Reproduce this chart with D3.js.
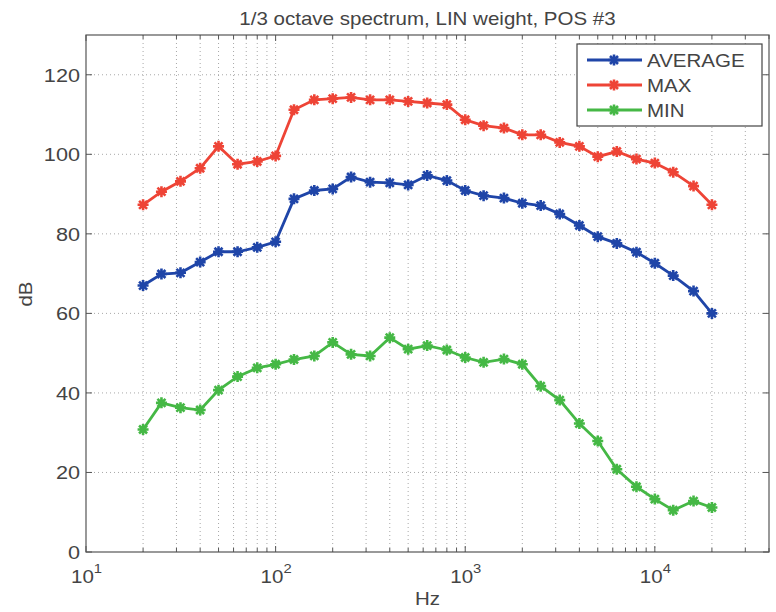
<!DOCTYPE html>
<head>
    <meta charset="utf-8">
    <script src="https://d3js.org/d3.v7.min.js"></script>
    <style>
        body { margin: 0; background: #fff; }
        text { font-family: "Liberation Sans", Arial, sans-serif; fill: #444; }
    </style>
</head>
<body>
    <svg id="my_dataviz" width="776" height="612"></svg>
    <script>
        // 1/3 octave band centre frequencies (Hz)
        var freqs = [20, 25, 31.5, 40, 50, 63, 80, 100, 125, 160, 200, 250, 315, 400, 500, 630, 800,
            1000, 1250, 1600, 2000, 2500, 3150, 4000, 5000, 6300, 8000, 10000, 12500, 16000, 20000];

        var average = [67, 69.9, 70.2, 72.9, 75.5, 75.5, 76.6, 78, 88.8, 90.9, 91.3, 94.3, 93, 92.8, 92.3, 94.7, 93.4,
            90.9, 89.6, 89, 87.7, 87.1, 85, 82.1, 79.3, 77.6, 75.4, 72.6, 69.5, 65.6, 60];
        var maxv = [87.3, 90.6, 93.2, 96.5, 102, 97.5, 98.2, 99.6, 111.2, 113.7, 114, 114.3, 113.7, 113.7, 113.3, 112.9, 112.5,
            108.7, 107.2, 106.6, 104.9, 104.9, 103, 102, 99.4, 100.7, 98.8, 97.8, 95.5, 92, 87.3];
        var minv = [30.8, 37.5, 36.3, 35.7, 40.7, 44.1, 46.3, 47.2, 48.4, 49.3, 52.7, 49.7, 49.3, 53.9, 51, 51.9, 50.8,
            48.9, 47.7, 48.5, 47.2, 41.7, 38.2, 32.3, 27.9, 20.8, 16.4, 13.3, 10.5, 12.8, 11.2];

        var seriesNames = ["AVERAGE", "MAX", "MIN"];
        var seriesColors = ["#1f45a8", "#ee4436", "#45b845"];
        var yTicks = [0, 20, 40, 60, 80, 100, 120];
        var xMajor = [10, 100, 1000, 10000];
        var xExp = ["1", "2", "3", "4"];

        var svg = d3.select("svg");
        var pLeft = 86, pRight = 769, pTop = 35, pBottom = 552;
        var sx = 1.14; // the source picture's text is a bit wide

        var x = d3.scaleLog().domain([10, 40000]).range([pLeft, pRight]);
        var y = d3.scaleLinear().domain([0, 130]).range([pBottom, pTop]);

        // text helper, stretched horizontally
        function addText(parent, tx, ty, size, anchor, str, rot) {
            return parent.append("text")
                .attr("transform", "translate(" + tx + "," + ty + ")" + (rot ? " rotate(" + rot + ")" : "") + " scale(" + sx + ",1)")
                .attr("text-anchor", anchor).style("font-size", size + "px").text(str);
        }

        // minor + major positions on log axis
        var xAll = [];
        xMajor.forEach(function (d) {
            for (var k = 1; k < 10; k++) {
                var v = d * k;
                if (v <= 40000) xAll.push(v);
            }
        });

        // grid
        var grid = svg.append("g").attr("stroke", "#a8a8a8").attr("stroke-dasharray", "1,3").attr("stroke-width", 1);
        grid.selectAll(".gx").data(xAll.filter(function (d) { return d > 10 && d < 40000; })).enter().append("line")
            .attr("x1", function (d) { return x(d); }).attr("x2", function (d) { return x(d); })
            .attr("y1", pTop).attr("y2", pBottom);
        grid.selectAll(".gy").data(yTicks.filter(function (d) { return d > 0; })).enter().append("line")
            .attr("y1", function (d) { return y(d); }).attr("y2", function (d) { return y(d); })
            .attr("x1", pLeft).attr("x2", pRight);

        // tick marks (inside, both sides)
        var ticks = svg.append("g").attr("stroke", "#555").attr("stroke-width", 1);
        xAll.forEach(function (d) {
            var len = xMajor.indexOf(d) >= 0 ? 6 : 4;
            ticks.append("line").attr("x1", x(d)).attr("x2", x(d)).attr("y1", pBottom).attr("y2", pBottom - len);
            ticks.append("line").attr("x1", x(d)).attr("x2", x(d)).attr("y1", pTop).attr("y2", pTop + len);
        });
        yTicks.forEach(function (d) {
            ticks.append("line").attr("x1", pLeft).attr("x2", pLeft + 6).attr("y1", y(d)).attr("y2", y(d));
            ticks.append("line").attr("x1", pRight).attr("x2", pRight - 6).attr("y1", y(d)).attr("y2", y(d));
        });

        // axes box
        svg.append("rect").attr("x", pLeft).attr("y", pTop).attr("width", pRight - pLeft).attr("height", pBottom - pTop)
            .attr("fill", "none").attr("stroke", "#555").attr("stroke-width", 1.2);

        // y tick labels
        yTicks.forEach(function (d) {
            addText(svg, pLeft - 6, y(d) + 7, 19, "end", d);
        });

        // x tick labels 10^n
        xMajor.forEach(function (d, i) {
            var t = addText(svg, x(d) - 15, 583, 18, "start", null);
            t.append("tspan").text("10");
            t.append("tspan").attr("dy", -10).style("font-size", "13px").text(xExp[i]);
        });

        // labels
        addText(svg, (pLeft + pRight) / 2, 25, 18, "middle", "1/3 octave spectrum, LIN weight, POS #3");
        addText(svg, (pLeft + pRight) / 2, 605, 18, "middle", "Hz");
        addText(svg, 32, 294, 18, "middle", "dB", -90);

        // series
        var series = [average, maxv, minv];
        var line = d3.line().x(function (d) { return x(d[0]); }).y(function (d) { return y(d[1]); });
        var star = "M-5.5,0L5.5,0M0,-5.5L0,5.5M-4,-4L4,4M-4,4L4,-4";

        series.forEach(function (vals, i) {
            var pts = freqs.map(function (f, j) { return [f, vals[j]]; });
            svg.append("path").datum(pts).attr("d", line)
                .attr("fill", "none").attr("stroke", seriesColors[i]).attr("stroke-width", 2.8);
            svg.append("g").selectAll("path").data(pts).enter().append("path")
                .attr("transform", function (d) { return "translate(" + x(d[0]) + "," + y(d[1]) + ")"; })
                .attr("d", star).attr("fill", "none").attr("stroke", seriesColors[i]).attr("stroke-width", 2.6);
        });

        // legend
        var lg = svg.append("g");
        lg.append("rect").attr("x", 577).attr("y", 44).attr("width", 185).attr("height", 82)
            .attr("fill", "#fff").attr("stroke", "#444").attr("stroke-width", 1.2);
        seriesNames.forEach(function (name, i) {
            var ly = 60 + i * 25;
            lg.append("line").attr("x1", 587).attr("x2", 642).attr("y1", ly).attr("y2", ly)
                .attr("stroke", seriesColors[i]).attr("stroke-width", 2.8);
            lg.append("path").attr("transform", "translate(614," + ly + ")").attr("d", star)
                .attr("fill", "none").attr("stroke", seriesColors[i]).attr("stroke-width", 2.6);
            addText(lg, 647, ly + 7, 18, "start", name);
        });
    </script>
</body>
